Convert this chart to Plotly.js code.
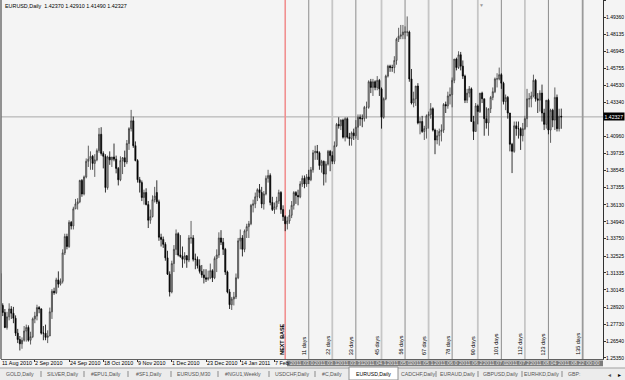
<!DOCTYPE html>
<html><head><meta charset="utf-8">
<script src="https://cdn.plot.ly/plotly-3.0.1.min.js"></script>
<style>html,body{margin:0;padding:0;background:#f4f4f4;}#chart{width:625px;height:380px;}</style>
</head><body><div id="chart"></div>
<script>
// ---- DATA (EURUSD Daily, 11 Aug 2010 .. 12 Aug 2011), bar index order ----
const symbol = "EURUSD,Daily";
const openP = [1.3130,1.2905,1.2855,1.2750,1.2825,1.2880,1.2850,1.2815,1.2710,1.2665,1.2635,1.2660,1.2725,1.2750,1.2660,1.2685,1.2810,1.2830,1.2890,1.2880,
1.2710,1.2710,1.2680,1.2690,1.2860,1.3005,1.2995,1.3085,1.3055,1.3075,1.3275,1.3390,1.3320,1.3490,1.3465,1.3585,1.3620,1.3635,1.3785,1.3690,
1.3810,1.3920,1.3935,1.3955,1.3905,1.3930,1.3995,1.4110,1.3975,1.3955,1.3735,1.3950,1.3930,1.3950,1.3935,1.3870,1.3790,1.3925,1.3945,1.3915,
1.4045,1.4150,1.4205,1.4030,1.3925,1.3790,1.3770,1.3665,1.3700,1.3615,1.3505,1.3530,1.3650,1.3700,1.3635,1.3385,1.3370,1.3335,1.3240,1.3125,
1.3000,1.3200,1.3300,1.3410,1.3260,1.3250,1.3230,1.3255,1.3225,1.3380,1.3380,1.3230,1.3230,1.3185,1.3145,1.3120,1.3100,1.3090,1.3100,1.3150,
1.3100,1.3235,1.3260,1.3380,1.3350,1.3300,1.3140,1.3000,1.2910,1.2950,1.2965,1.3100,1.3360,1.3380,1.3300,1.3430,1.3460,1.3480,1.3610,1.3620,
1.3670,1.3720,1.3700,1.3620,1.3690,1.3800,1.3820,1.3630,1.3580,1.3600,1.3640,1.3700,1.3580,1.3530,1.3480,1.3500,1.3540,1.3610,1.3700,1.3680,
1.3670,1.3760,1.3800,1.3760,1.3810,1.3790,1.3860,1.3980,1.3990,1.3980,1.3890,1.3920,1.3830,1.3900,1.3990,1.3960,1.3920,1.4030,1.4180,1.4170,
1.4210,1.4090,1.4220,1.4090,1.4080,1.4120,1.4100,1.4160,1.4230,1.4220,1.4220,1.4300,1.4300,1.4480,1.4440,1.4480,1.4440,1.4490,1.4430,1.4230,
1.4360,1.4520,1.4590,1.4580,1.4580,1.4630,1.4780,1.4800,1.4810,1.4830,1.4830,1.4830,1.4500,1.4330,1.4360,1.4450,1.4190,1.4200,1.4130,1.4150,
1.4240,1.4250,1.4290,1.4140,1.4070,1.4100,1.4130,1.4140,1.4320,1.4310,1.4380,1.4390,1.4490,1.4640,1.4580,1.4670,1.4590,1.4520,1.4350,1.4400,
1.4430,1.4200,1.4130,1.4310,1.4270,1.4400,1.4360,1.4220,1.4190,1.4290,1.4370,1.4410,1.4500,1.4500,1.4530,1.4470,1.4340,1.4370,1.4260,1.4040,
1.3990,1.4170,1.4150,1.4150,1.4100,1.4150,1.4220,1.4360,1.4360,1.4380,1.4490,1.4360,1.4350,1.4400,1.4260,1.4180,1.4350,1.4140,1.4280,1.4210,
1.4370,1.4150,1.4237];
const highP = [1.3150,1.2920,1.2880,1.2860,1.2920,1.2900,1.2895,1.2835,1.2740,1.2690,1.2680,1.2760,1.2770,1.2765,1.2720,1.2820,1.2860,1.2910,1.2900,1.2885,
1.2760,1.2770,1.2730,1.2890,1.3020,1.3030,1.3100,1.3145,1.3095,1.3300,1.3410,1.3410,1.3505,1.3500,1.3600,1.3655,1.3660,1.3790,1.3795,1.3820,
1.3940,1.4030,1.3990,1.3965,1.3970,1.4010,1.4155,1.4160,1.3990,1.3970,1.3960,1.3990,1.3950,1.4045,1.3960,1.3880,1.3955,1.3950,1.3995,1.4070,
1.4160,1.4282,1.4235,1.4060,1.3935,1.3810,1.3785,1.3720,1.3730,1.3640,1.3580,1.3680,1.3740,1.3786,1.3650,1.3410,1.3390,1.3350,1.3290,1.3145,
1.3220,1.3330,1.3440,1.3420,1.3400,1.3320,1.3280,1.3260,1.3400,1.3500,1.3400,1.3270,1.3250,1.3230,1.3190,1.3160,1.3160,1.3150,1.3200,1.3160,
1.3250,1.3300,1.3420,1.3435,1.3380,1.3310,1.3150,1.3020,1.2965,1.3000,1.3130,1.3380,1.3440,1.3400,1.3440,1.3480,1.3500,1.3620,1.3650,1.3700,
1.3730,1.3760,1.3740,1.3710,1.3820,1.3860,1.3835,1.3670,1.3630,1.3670,1.3720,1.3710,1.3610,1.3540,1.3530,1.3580,1.3640,1.3710,1.3710,1.3720,
1.3780,1.3820,1.3820,1.3830,1.3860,1.3880,1.4000,1.4030,1.4035,1.3990,1.3930,1.3925,1.3920,1.4000,1.4000,1.3990,1.4060,1.4190,1.4230,1.4215,
1.4220,1.4230,1.4230,1.4120,1.4130,1.4150,1.4210,1.4250,1.4250,1.4250,1.4310,1.4340,1.4490,1.4500,1.4500,1.4490,1.4520,1.4500,1.4440,1.4370,
1.4530,1.4600,1.4600,1.4600,1.4660,1.4790,1.4860,1.4880,1.4880,1.4870,1.4940,1.4840,1.4570,1.4410,1.4450,1.4470,1.4230,1.4240,1.4170,1.4250,
1.4270,1.4330,1.4300,1.4150,1.4140,1.4150,1.4180,1.4330,1.4340,1.4410,1.4440,1.4510,1.4640,1.4650,1.4695,1.4690,1.4630,1.4530,1.4430,1.4450,
1.4440,1.4240,1.4330,1.4320,1.4400,1.4410,1.4360,1.4300,1.4290,1.4380,1.4440,1.4510,1.4540,1.4580,1.4540,1.4480,1.4390,1.4380,1.4260,1.4050,
1.4200,1.4200,1.4200,1.4160,1.4190,1.4240,1.4430,1.4400,1.4410,1.4530,1.4500,1.4400,1.4420,1.4460,1.4290,1.4350,1.4360,1.4290,1.4290,1.4440,
1.4390,1.4290,1.4291];
const lowP = [1.2900,1.2830,1.2745,1.2735,1.2800,1.2810,1.2780,1.2690,1.2640,1.2588,1.2600,1.2650,1.2650,1.2650,1.2630,1.2675,1.2780,1.2800,1.2850,1.2700,
1.2660,1.2660,1.2640,1.2690,1.2810,1.2980,1.2985,1.3030,1.3045,1.3060,1.3260,1.3300,1.3310,1.3440,1.3440,1.3585,1.3580,1.3625,1.3670,1.3680,
1.3800,1.3880,1.3860,1.3860,1.3810,1.3920,1.3980,1.3960,1.3870,1.3700,1.3720,1.3895,1.3880,1.3920,1.3835,1.3750,1.3780,1.3830,1.3880,1.3900,
1.4000,1.4130,1.4015,1.3920,1.3770,1.3700,1.3640,1.3615,1.3610,1.3450,1.3480,1.3525,1.3630,1.3620,1.3360,1.3320,1.3310,1.3220,1.3120,1.2968,
1.2990,1.3140,1.3260,1.3250,1.3240,1.3170,1.3200,1.3170,1.3210,1.3340,1.3215,1.3160,1.3165,1.3130,1.3100,1.3060,1.3070,1.3080,1.3090,1.3070,
1.3090,1.3140,1.3240,1.3330,1.3260,1.3120,1.2990,1.2880,1.2873,1.2905,1.2950,1.3090,1.3300,1.3250,1.3280,1.3380,1.3380,1.3470,1.3560,1.3590,
1.3640,1.3660,1.3590,1.3580,1.3680,1.3770,1.3610,1.3570,1.3550,1.3580,1.3620,1.3550,1.3500,1.3428,1.3440,1.3480,1.3520,1.3580,1.3620,1.3610,
1.3660,1.3740,1.3730,1.3740,1.3760,1.3780,1.3840,1.3930,1.3930,1.3860,1.3840,1.3750,1.3770,1.3890,1.3850,1.3900,1.3900,1.4020,1.4150,1.4140,
1.4080,1.4060,1.4080,1.4030,1.4030,1.4070,1.4080,1.4070,1.4170,1.4160,1.4200,1.4220,1.4290,1.4400,1.4380,1.4420,1.4420,1.4380,1.4150,1.4220,
1.4350,1.4510,1.4550,1.4550,1.4540,1.4600,1.4760,1.4780,1.4780,1.4780,1.4800,1.4480,1.4320,1.4300,1.4310,1.4180,1.4110,1.4120,1.4070,1.4080,
1.4150,1.4220,1.4130,1.3970,1.4040,1.4030,1.4060,1.4120,1.4260,1.4290,1.4320,1.4300,1.4470,1.4560,1.4570,1.4560,1.4500,1.4330,1.4330,1.4370,
1.4200,1.4070,1.4130,1.4180,1.4260,1.4330,1.4100,1.4150,1.4100,1.4260,1.4350,1.4400,1.4440,1.4490,1.4430,1.4320,1.4280,1.4220,1.3990,1.3837,
1.3980,1.4100,1.4080,1.4000,1.4060,1.4140,1.4160,1.4300,1.4300,1.4370,1.4340,1.4260,1.4270,1.4200,1.4140,1.4150,1.4110,1.4050,1.4160,1.4140,
1.4130,1.4130,1.4149];
const closeP = [1.2905,1.2855,1.2750,1.2825,1.2880,1.2850,1.2815,1.2710,1.2665,1.2635,1.2660,1.2725,1.2750,1.2660,1.2685,1.2810,1.2830,1.2890,1.2880,1.2710,
1.2710,1.2680,1.2690,1.2860,1.3005,1.2995,1.3085,1.3055,1.3075,1.3275,1.3390,1.3320,1.3490,1.3465,1.3585,1.3620,1.3635,1.3785,1.3690,1.3810,
1.3920,1.3935,1.3955,1.3905,1.3930,1.3995,1.4110,1.3975,1.3955,1.3735,1.3950,1.3930,1.3950,1.3935,1.3870,1.3790,1.3925,1.3945,1.3915,1.4045,
1.4150,1.4205,1.4030,1.3925,1.3790,1.3770,1.3665,1.3700,1.3615,1.3505,1.3530,1.3650,1.3675,1.3635,1.3385,1.3370,1.3335,1.3240,1.3125,1.3000,
1.3200,1.3300,1.3410,1.3260,1.3250,1.3230,1.3255,1.3225,1.3380,1.3380,1.3230,1.3230,1.3185,1.3145,1.3120,1.3100,1.3090,1.3100,1.3150,1.3100,
1.3235,1.3260,1.3380,1.3350,1.3300,1.3140,1.3000,1.2910,1.2950,1.2965,1.3100,1.3360,1.3380,1.3300,1.3430,1.3460,1.3480,1.3610,1.3620,1.3670,
1.3720,1.3700,1.3620,1.3690,1.3800,1.3820,1.3630,1.3580,1.3600,1.3640,1.3700,1.3580,1.3530,1.3480,1.3500,1.3540,1.3610,1.3700,1.3680,1.3670,
1.3760,1.3800,1.3760,1.3810,1.3790,1.3860,1.3980,1.3990,1.3980,1.3890,1.3920,1.3830,1.3900,1.3990,1.3960,1.3920,1.4030,1.4180,1.4170,1.4210,
1.4090,1.4220,1.4090,1.4080,1.4120,1.4100,1.4160,1.4230,1.4220,1.4220,1.4300,1.4300,1.4480,1.4440,1.4480,1.4440,1.4490,1.4430,1.4230,1.4360,
1.4520,1.4590,1.4580,1.4580,1.4630,1.4780,1.4800,1.4810,1.4830,1.4830,1.4830,1.4500,1.4330,1.4360,1.4450,1.4190,1.4200,1.4130,1.4150,1.4240,
1.4250,1.4290,1.4140,1.4070,1.4100,1.4130,1.4140,1.4320,1.4310,1.4380,1.4390,1.4490,1.4640,1.4580,1.4670,1.4590,1.4520,1.4350,1.4400,1.4430,
1.4200,1.4130,1.4310,1.4270,1.4400,1.4360,1.4220,1.4190,1.4290,1.4370,1.4410,1.4500,1.4500,1.4530,1.4470,1.4340,1.4370,1.4260,1.4040,1.3990,
1.4170,1.4150,1.4150,1.4100,1.4150,1.4220,1.4360,1.4360,1.4380,1.4490,1.4360,1.4350,1.4400,1.4260,1.4180,1.4350,1.4140,1.4280,1.4210,1.4370,
1.4150,1.4237,1.42327];

const xLabelIdx = [0,16,32,48,64,80,96,112,128];
const xLabelText = ["11 Aug 2010","2 Sep 2010","24 Sep 2010","18 Oct 2010","9 Nov 2010","1 Dec 2010","23 Dec 2010","14 Jan 2011","7 Feb"];
const yTicks = [1.25350,1.26540,1.27730,1.28920,1.30145,1.31335,1.32525,1.33750,1.34940,1.36130,1.37355,1.38545,1.39735,1.40960,1.43340,1.44530,1.45755,1.46945,1.48135,1.49360,1.50550];

const baseIdx = 133;                 // NEXT BASE (14 Feb 2011)
const lineIdx  = [144,155,166,178,189,200,211,223,234,245,256,272];
const lineDays = [11,22,33,45,56,67,78,90,101,112,123,135];
const lineDates = ["2011.03.0","2011.03.1","2011.03.31","2011.04.1","2011.05.0","2011.05.1","2011.06.0","2011.06.2","2011.07.0","2011.07.2","2011.08.04","2011.08.22 00:00"];

const tabNames = ["GOLD,Daily","SILVER,Daily","#EPU1,Daily","#SF1,Daily","EURUSD,M30","#NGU1,Weekly","USDCHF,Daily","#C,Daily","EURUSD,Daily","CADCHF,Daily","EURAUD,Daily","GBPUSD,Daily","EURHKD,Daily","GBP:"];

// ---- LAYOUT GEOMETRY ----
const W=625,H=380,ML=1,MR=22,MT=0,MB=21,PW=W-ML-MR,PH=H-MT-MB;
const pxX = px => (px-ML)/PW;
const pxY = py => (H-MB-py)/PH;
const FONT = "Liberation Sans, Arial, sans-serif";
const FS = 5.4;
const barPx = 2.14, x0 = 0.19;
const idxToPaper = i => (i - x0)*barPx/PW;
const n = closeP.length;
const xs = closeP.map((_,i)=>i);

const trace = {
  type:'candlestick', x:xs, open:openP, high:highP, low:lowP, close:closeP,
  increasing:{line:{color:'#3a3a3a',width:0.8},fillcolor:'#d0d0d0'},
  decreasing:{line:{color:'#000000',width:0.8},fillcolor:'#000000'},
  whiskerwidth:0, hoverinfo:'skip', showlegend:false
};

const last = n-1;
const shapes = [];
const annotations = [];

shapes.push({type:'line',xref:'paper',yref:'y',x0:0,x1:1,y0:closeP[last],y1:closeP[last],line:{color:'#a8a8a8',width:1},layer:'below'});
shapes.push({type:'line',xref:'x',yref:'paper',x0:baseIdx,x1:baseIdx,y0:0,y1:1,line:{color:'#f09090',width:1.6},layer:'below'});
lineIdx.forEach((xi,k)=>{
  const dark = (k%2===0);
  shapes.push({type:'line',xref:'x',yref:'paper',x0:xi,x1:xi,y0:0,y1:1,
    line:{color: k===lineIdx.length-1 ? '#9a9a9a' : (dark?'#8c8c8c':'#c6c6c6'), width: dark?1:1.8},layer:'below'});
});
shapes.push({type:'line',xref:'paper',yref:'paper',x0:0,x1:0,y0:0,y1:1,line:{color:'#707070',width:1.5}});
shapes.push({type:'rect',xref:'paper',yref:'paper',x0:pxX(287),x1:1,y0:pxY(366.2),y1:pxY(360.4),fillcolor:'#7c7c7c',line:{width:0}});
shapes.push({type:'rect',xref:'paper',yref:'paper',x0:pxX(0),x1:pxX(W),y0:pxY(380),y1:pxY(368),fillcolor:'#ececec',line:{width:0}});
shapes.push({type:'line',xref:'paper',yref:'paper',x0:pxX(0),x1:pxX(W),y0:pxY(368),y1:pxY(368),line:{color:'#a0a0a0',width:1}});
shapes.push({type:'rect',xref:'paper',yref:'paper',x0:pxX(349),x1:pxX(398),y0:pxY(380),y1:pxY(367),fillcolor:'#ffffff',line:{color:'#909090',width:1}});
[41,84,128,171,218,269,315,436,478,522,562].forEach(sx=>{
  shapes.push({type:'line',xref:'paper',yref:'paper',x0:pxX(sx),x1:pxX(sx),y0:pxY(377),y1:pxY(371),line:{color:'#8a8a8a',width:1}});
});

annotations.push({xref:'paper',yref:'paper',x:pxX(3),y:pxY(6.5),xanchor:'left',yanchor:'middle',showarrow:false,
  text: symbol+'  '+openP[last].toFixed(5)+' '+highP[last].toFixed(5)+' '+lowP[last].toFixed(5)+' '+closeP[last].toFixed(5),
  font:{family:FONT,size:FS,color:'#000'}});
annotations.push({xref:'paper',yref:'y',x:1.0,y:closeP[last],xanchor:'left',yanchor:'middle',showarrow:false,
  text:closeP[last].toFixed(5),bgcolor:'#000',borderpad:0.6,font:{family:FONT,size:5.1,color:'#fff'}});
xLabelIdx.forEach((xi,k)=>{
  annotations.push({xref:'paper',yref:'paper',x:Math.max(0.001, idxToPaper(xi)),xshift:-1.5,y:pxY(363.3),xanchor:'left',yanchor:'middle',showarrow:false,
    text:xLabelText[k],font:{family:FONT,size:FS,color:'#000'}});
});
annotations.push({xref:'x',yref:'paper',x:baseIdx,xshift:-4,y:pxY(357),xanchor:'center',yanchor:'bottom',textangle:-90,showarrow:false,
  text:'<b>NEXT BASE</b>',font:{family:FONT,size:FS,color:'#000'}});
lineIdx.forEach((xi,k)=>{
  annotations.push({xref:'x',yref:'paper',x:xi,xshift:-5,y:pxY(357),xanchor:'center',yanchor:'bottom',textangle:-90,showarrow:false,
    text:lineDays[k]+' days',font:{family:FONT,size:FS,color:'#000'}});
});
lineIdx.forEach((xi,k)=>{
  const isLast = k===lineIdx.length-1;
  annotations.push({xref: isLast?'paper':'x', yref:'paper', x: isLast?1:xi, xshift: isLast?-1:-20.5, y:pxY(363.3),
    xanchor: isLast?'right':'left', yanchor:'middle', showarrow:false,
    text:lineDates[k], font:{family:FONT,size:FS,color:'#e4e4e4'}});
});
annotations.push({xref:'paper',yref:'paper',x:pxX(481),y:1,xanchor:'center',yanchor:'top',showarrow:false,
  text:'▼',font:{family:FONT,size:5,color:'#9a9a9a'}});
const tabCx = [20,62,106,149,194,243,292,332,373,418,457,500,541,574];
tabNames.forEach((t,k)=>{
  annotations.push({xref:'paper',yref:'paper',x:pxX(tabCx[k]),y:pxY(374),xanchor:'center',yanchor:'middle',showarrow:false,
    text:t,font:{family:FONT,size:5.2,color: k===8?'#000':'#555'}});
});
annotations.push({xref:'paper',yref:'paper',x:pxX(609),y:pxY(374),xanchor:'center',yanchor:'middle',showarrow:false,text:'◂',font:{family:'DejaVu Sans',size:6,color:'#555'}});
annotations.push({xref:'paper',yref:'paper',x:pxX(619),y:pxY(374),xanchor:'center',yanchor:'middle',showarrow:false,text:'▸',font:{family:'DejaVu Sans',size:6,color:'#000'}});

const pxPerUnit = 1420.2;
const yTop = 1.4936 + 17/pxPerUnit, yBot = yTop - PH/pxPerUnit;

const layout = {
  width:W,height:H,margin:{l:ML,r:MR,t:MT,b:MB,pad:0},
  paper_bgcolor:'#f4f4f4',plot_bgcolor:'#f4f4f4',
  font:{family:FONT,size:FS,color:'#000'},
  showlegend:false, hovermode:false, dragmode:false,
  xaxis:{type:'linear',range:[x0, x0+PW/barPx],rangeslider:{visible:false},
    showgrid:false,zeroline:false,showline:true,linecolor:'#606060',linewidth:1,
    tickmode:'array',tickvals:xLabelIdx,ticks:'outside',ticklen:2,tickcolor:'#333',
    showticklabels:false,fixedrange:true},
  yaxis:{side:'right',range:[yBot,yTop],showgrid:false,zeroline:false,showline:true,linecolor:'#303030',linewidth:1,
    tickmode:'array',tickvals:yTicks,ticktext:yTicks.map(v=>v.toFixed(5)),ticks:'outside',ticklen:2,tickcolor:'#333',
    ticklabelstandoff:-1,tickfont:{family:FONT,size:5.0,color:'#000'},fixedrange:true},
  shapes:shapes, annotations:annotations
};
Plotly.newPlot('chart',[trace],layout,{displayModeBar:false,staticPlot:true});
</script></body></html>
